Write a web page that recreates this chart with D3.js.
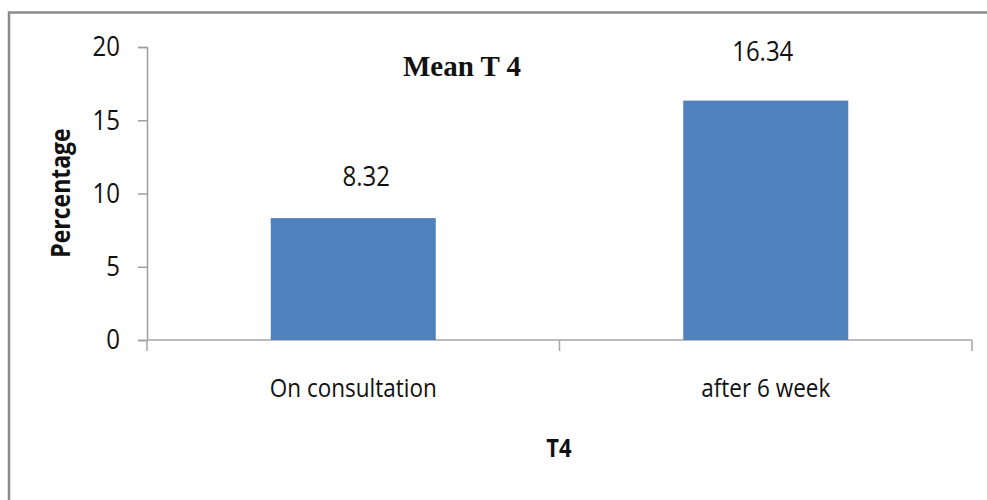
<!DOCTYPE html>
<html>
<head>
<meta charset="utf-8">
<script src="https://cdn.jsdelivr.net/npm/d3@7"></script>
<style>
  body { margin: 0; background: #fff; }
  text { font-family: "Open Sans", sans-serif; fill: #111; }
</style>
</head>
<body>
<div id="container"></div>
<script>
/* DATA */
const categories = ["On consultation", "after 6 week"];
const values = [8.32, 16.34];
const yTicks = [0, 5, 10, 15, 20];

/* LAYOUT */
const width = 987, height = 500;
const margin = { top: 47, bottom: 160, left: 147, right: 15 };
// small nudges the original labels had
const labelShift = [{ dx: 13, dy: -32 }, { dx: -3, dy: -40 }];
const tall = 1.15; // the original font is narrower/taller than Open Sans

const svg = d3.select("#container")
  .append("svg")
  .attr("width", width)
  .attr("height", height);

// outer frame (runs off the right and bottom edges)
svg.append("rect")
  .attr("x", 9).attr("y", 12.5)
  .attr("width", 1000).attr("height", 520)
  .attr("fill", "none")
  .attr("stroke", "#8a8a8a")
  .attr("stroke-width", 2.5);

/* SCALES */
const xScale = d3.scaleBand()
  .domain(categories)
  .range([margin.left, width - margin.right])
  .paddingInner(0.6)
  .paddingOuter(0.3);

const yScale = d3.scaleLinear()
  .domain([0, 20])
  .range([height - margin.bottom, margin.top]);

/* AXES */
const yAxis = d3.axisLeft(yScale).tickValues(yTicks).tickSize(9).tickPadding(18);
const gy = svg.append("g")
  .attr("transform", `translate(${margin.left},0)`)
  .call(yAxis);
gy.select(".domain").attr("stroke", "#9f9f9f").attr("stroke-width", 1.5);
gy.selectAll(".tick line").attr("stroke", "#9f9f9f").attr("stroke-width", 1.5);
gy.selectAll(".tick text")
  .style("font-size", "24px")
  .style("font-family", "'Open Sans', sans-serif")
  .attr("transform", `scale(1,${tall})`)
  .attr("fill", "#222");

// x axis: boundaries between categories get ticks
const xEdges = [margin.left, (margin.left + width - margin.right) / 2, width - margin.right];
const base = yScale(0);
svg.append("line")
  .attr("x1", margin.left).attr("x2", width - margin.right)
  .attr("y1", base).attr("y2", base)
  .attr("stroke", "#a6a6a6").attr("stroke-width", 1.5);
svg.selectAll(".xtick")
  .data(xEdges)
  .join("line")
  .attr("class", "xtick")
  .attr("x1", d => d).attr("x2", d => d)
  .attr("y1", base).attr("y2", base + 11)
  .attr("stroke", "#a6a6a6").attr("stroke-width", 1.5);

svg.selectAll(".xlabel")
  .data(categories)
  .join("text")
  .attr("class", "xlabel")
  .attr("transform", d => `translate(${xScale(d) + xScale.bandwidth() / 2},397) scale(1,${tall})`)
  .attr("text-anchor", "middle")
  .style("font-size", "22.5px")
  .text(d => d);

/* BARS */
svg.selectAll(".bar")
  .data(values)
  .join("rect")
  .attr("class", "bar")
  .attr("x", (d, i) => xScale(categories[i]))
  .attr("y", d => yScale(d))
  .attr("width", xScale.bandwidth())
  .attr("height", d => yScale(0) - yScale(d))
  .attr("fill", "#4f81bd");

svg.selectAll(".vlabel")
  .data(values)
  .join("text")
  .attr("class", "vlabel")
  .attr("transform", (d, i) =>
    `translate(${xScale(categories[i]) + xScale.bandwidth() / 2 + labelShift[i].dx},${yScale(d) + labelShift[i].dy}) scale(1,${tall})`)
  .attr("text-anchor", "middle")
  .style("font-size", "24px")
  .text(d => d.toFixed(2));

/* TITLES */
svg.append("text")
  .attr("x", 462).attr("y", 76)
  .attr("text-anchor", "middle")
  .style("font-family", "'Liberation Serif', 'Times New Roman', serif")
  .style("font-weight", "bold")
  .style("font-size", "29px")
  .text("Mean T 4");

svg.append("text")
  .attr("transform", `translate(70,193) rotate(-90) scale(1,${tall})`)
  .attr("text-anchor", "middle")
  .style("font-weight", "bold")
  .style("font-size", "23px")
  .text("Percentage");

svg.append("text")
  .attr("transform", `translate(559,457) scale(1,${tall})`)
  .attr("text-anchor", "middle")
  .style("font-weight", "bold")
  .style("font-size", "22px")
  .text("T4");
</script>
</body>
</html>
